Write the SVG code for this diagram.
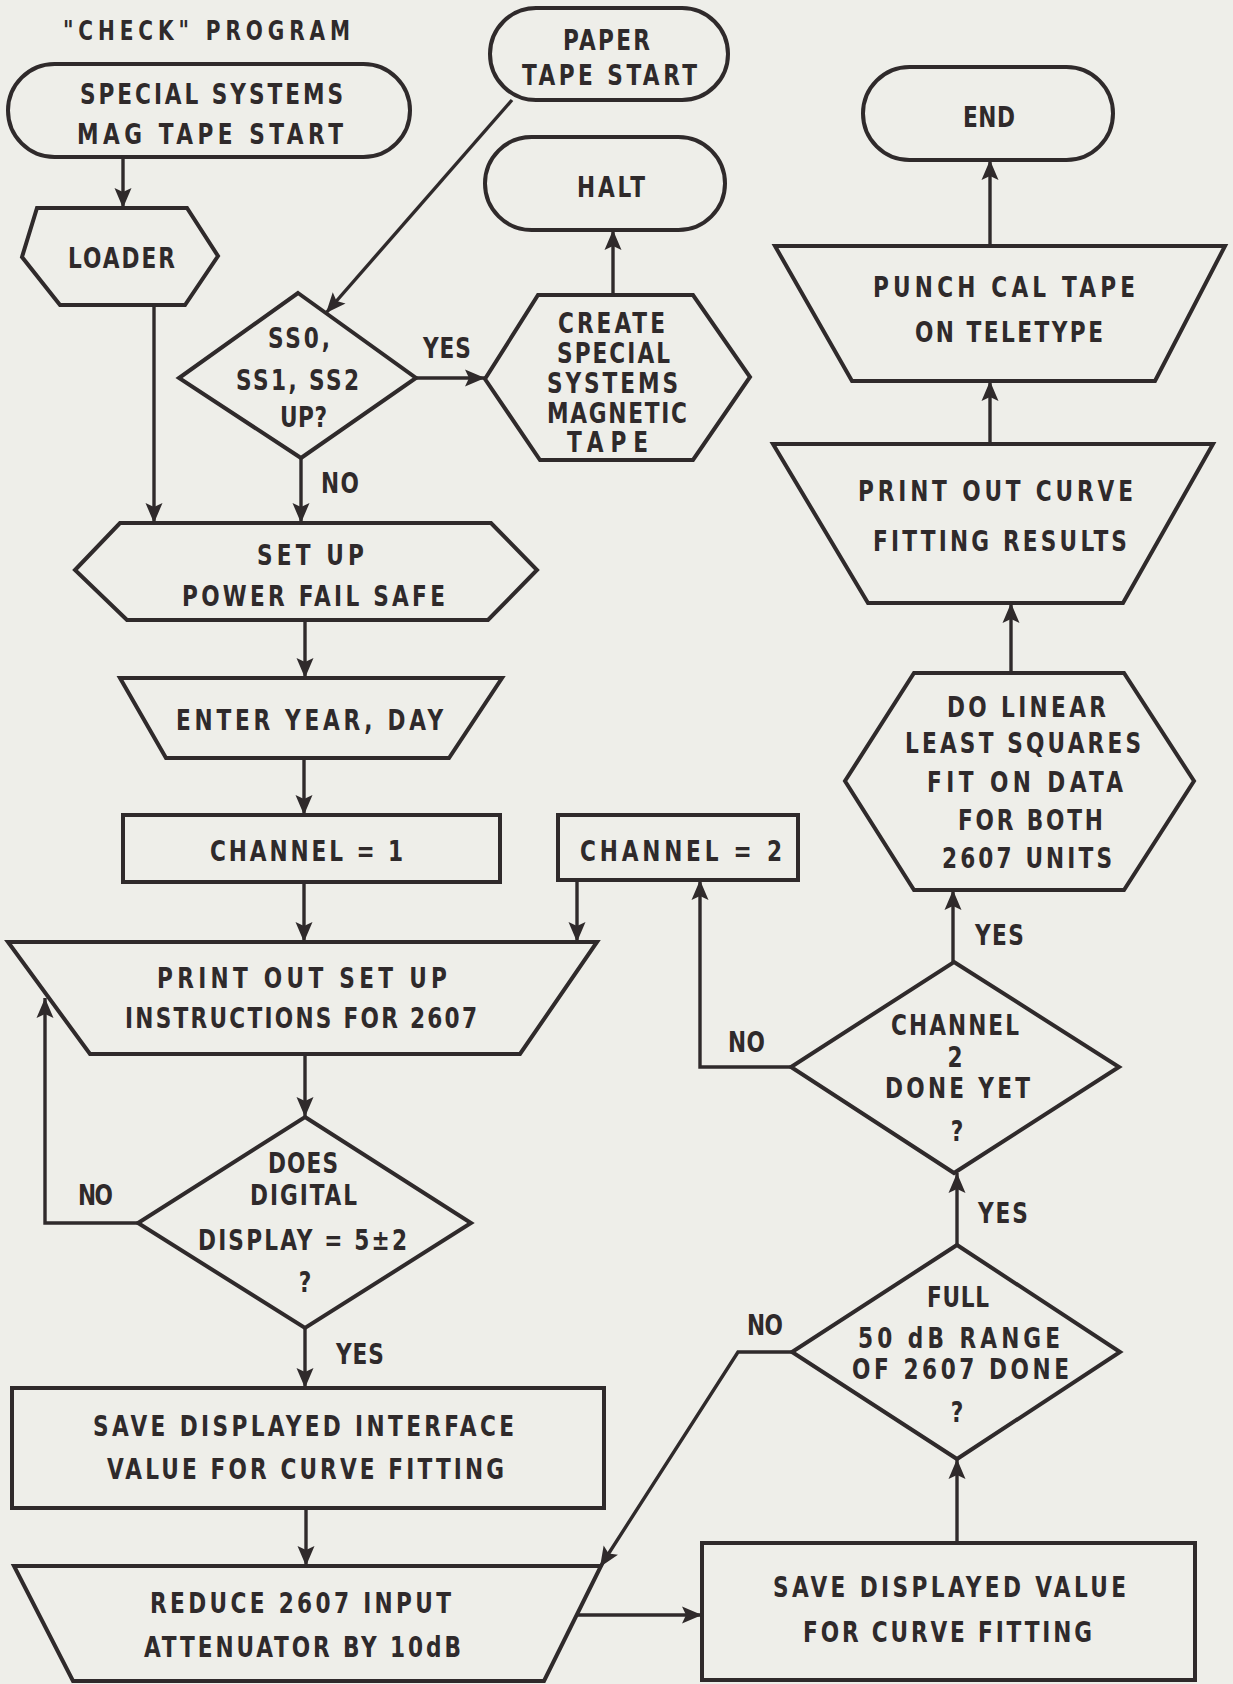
<svg xmlns="http://www.w3.org/2000/svg" width="1233" height="1684" viewBox="0 0 1233 1684">
<defs>
<style>
.bg{fill:#eeeee9}
.s{fill:none;stroke:#2f2a2b;stroke-width:4;stroke-linejoin:miter}
.c{fill:none;stroke:#2f2a2b;stroke-width:3.4}
text{font-family:"Liberation Sans Narrow","DejaVu Sans Condensed","Liberation Sans",sans-serif;font-weight:bold;font-size:28px;fill:#2f2a2b;text-anchor:middle;transform-box:fill-box;transform-origin:center;transform:scaleX(0.86)}
</style>
<marker id="ah" markerUnits="userSpaceOnUse" markerWidth="24" markerHeight="20" viewBox="-1 -10 24 20" refX="20" refY="0" orient="auto">
<path d="M0,-8.5 L20,0 L0,8.5 L4,0 z" fill="#2f2a2b"/>
</marker>
</defs>
<rect class="bg" x="0" y="0" width="1233" height="1684"/>

<g id="title"><text x="206.5" y="40" textLength="333.7" lengthAdjust="spacing" style="font-size:26px">"CHECK" PROGRAM</text></g>

<g id="start">
<rect class="s" x="8" y="64" width="402" height="93" rx="46.5"/>
<text x="211.5" y="104" textLength="305.8" lengthAdjust="spacing">SPECIAL SYSTEMS</text>
<text x="210" y="144" textLength="309.3" lengthAdjust="spacing">MAG TAPE START</text>
</g>

<g id="loader">
<polygon class="s" points="37,208 187,208 218,256 185,305 60,305 22,257"/>
<text x="121.5" y="268" textLength="124.4" lengthAdjust="spacing">LOADER</text>
</g>

<g id="paper">
<rect class="s" x="490" y="8" width="238" height="92" rx="46"/>
<text x="606.5" y="50" textLength="101.2" lengthAdjust="spacing">PAPER</text>
<text x="609.5" y="85" textLength="203.5" lengthAdjust="spacing">TAPE START</text>
</g>

<g id="halt">
<rect class="s" x="485" y="137" width="240" height="93" rx="46.5"/>
<text x="611" y="197" textLength="79.1" lengthAdjust="spacing">HALT</text>
</g>

<g id="create">
<polygon class="s" points="538,295 693,295 750,377 693,460 540,460 485,379"/>
<text x="611.5" y="333" textLength="124.4" lengthAdjust="spacing">CREATE</text>
<text x="613.5" y="363" textLength="131.4" lengthAdjust="spacing">SPECIAL</text>
<text x="612.5" y="393" textLength="152.3" lengthAdjust="spacing">SYSTEMS</text>
<text x="617" y="423" textLength="162.8" lengthAdjust="spacing">MAGNETIC</text>
<text x="607.5" y="452" textLength="94.2" lengthAdjust="spacing">TAPE</text>
</g>

<g id="end">
<rect class="s" x="863" y="67" width="250" height="93" rx="46.5"/>
<text x="989" y="127" textLength="60.5" lengthAdjust="spacing">END</text>
</g>

<g id="ssdecision">
<polygon class="s" points="298,293 416,378 301,458 179,378"/>
<text x="299" y="348" textLength="72.1" lengthAdjust="spacing">SS0,</text>
<text x="297.5" y="390" textLength="143" lengthAdjust="spacing">SS1, SS2</text>
<text x="303.5" y="427" textLength="54.7" lengthAdjust="spacing">UP?</text>
</g>

<g id="setup">
<polygon class="s" points="120,523 491,523 537,570 488,620 127,620 75,570"/>
<text x="310.5" y="565" textLength="124.4" lengthAdjust="spacing">SET UP</text>
<text x="313.5" y="606" textLength="305.8" lengthAdjust="spacing">POWER FAIL SAFE</text>
</g>

<g id="enteryear">
<polygon class="s" points="120,678 502,678 449,758 166,758"/>
<text x="309.5" y="730" textLength="310.5" lengthAdjust="spacing">ENTER YEAR, DAY</text>
</g>

<g id="channel1">
<rect class="s" x="123" y="815" width="377" height="67"/>
<text x="306.5" y="861" textLength="224.4" lengthAdjust="spacing">CHANNEL = 1</text>
</g>

<g id="channel2">
<rect class="s" x="558" y="815" width="240" height="65"/>
<text x="681" y="861" textLength="234.9" lengthAdjust="spacing">CHANNEL = 2</text>
</g>

<g id="printsetup">
<polygon class="s" points="8,942 597,942 520,1054 90,1054"/>
<text x="302" y="988" textLength="337.2" lengthAdjust="spacing">PRINT OUT SET UP</text>
<text x="301" y="1028" textLength="409.3" lengthAdjust="spacing">INSTRUCTIONS FOR 2607</text>
</g>

<g id="doesdecision">
<polygon class="s" points="305,1117 471,1223 305,1328 138,1223"/>
<text x="303" y="1173" textLength="81.4" lengthAdjust="spacing">DOES</text>
<text x="303.5" y="1205" textLength="124.4" lengthAdjust="spacing">DIGITAL</text>
<text x="302.5" y="1250" textLength="243" lengthAdjust="spacing">DISPLAY = 5±2</text>
<text x="305" y="1292">?</text>
</g>

<g id="saveinterface">
<rect class="s" x="12" y="1388" width="592" height="120"/>
<text x="303.5" y="1436" textLength="489.5" lengthAdjust="spacing">SAVE DISPLAYED INTERFACE</text>
<text x="305.5" y="1479" textLength="461.6" lengthAdjust="spacing">VALUE FOR CURVE FITTING</text>
</g>

<g id="reduce">
<polygon class="s" points="14,1566 601,1566 544,1681 73,1681"/>
<text x="300.5" y="1613" textLength="350" lengthAdjust="spacing">REDUCE 2607 INPUT</text>
<text x="302.5" y="1657" textLength="368.6" lengthAdjust="spacing">ATTENUATOR BY 10dB</text>
</g>

<g id="savevalue">
<rect class="s" x="702" y="1543" width="493" height="137"/>
<text x="949.5" y="1597" textLength="410.5" lengthAdjust="spacing">SAVE DISPLAYED VALUE</text>
<text x="947.5" y="1642" textLength="336" lengthAdjust="spacing">FOR CURVE FITTING</text>
</g>

<g id="fulldecision">
<polygon class="s" points="957,1245 1120,1352 957,1459 792,1352"/>
<text x="958" y="1307" textLength="72.1" lengthAdjust="spacing">FULL</text>
<text x="959" y="1348" textLength="234.9" lengthAdjust="spacing">50 dB RANGE</text>
<text x="960.5" y="1379" textLength="252.3" lengthAdjust="spacing">OF 2607 DONE</text>
<text x="957" y="1422">?</text>
</g>

<g id="ch2decision">
<polygon class="s" points="954,962 1119,1067 954,1173 791,1067"/>
<text x="955" y="1035" textLength="148.8" lengthAdjust="spacing">CHANNEL</text>
<text x="955" y="1067">2</text>
<text x="957.5" y="1098" textLength="168.6" lengthAdjust="spacing">DONE YET</text>
<text x="957" y="1141">?</text>
</g>

<g id="linearfit">
<polygon class="s" points="914,673 1124,673 1194,781 1124,890 914,890 845,781"/>
<text x="1026.5" y="717" textLength="184.9" lengthAdjust="spacing">DO LINEAR</text>
<text x="1023" y="753" textLength="274.4" lengthAdjust="spacing">LEAST SQUARES</text>
<text x="1025" y="792" textLength="227.9" lengthAdjust="spacing">FIT ON DATA</text>
<text x="1030.5" y="830" textLength="168.6" lengthAdjust="spacing">FOR BOTH</text>
<text x="1027" y="868" textLength="197.7" lengthAdjust="spacing">2607 UNITS</text>
</g>

<g id="printcurve">
<polygon class="s" points="773,444 1213,444 1123,603 868,603"/>
<text x="995.5" y="501" textLength="319.8" lengthAdjust="spacing">PRINT OUT CURVE</text>
<text x="1000" y="551" textLength="295.3" lengthAdjust="spacing">FITTING RESULTS</text>
</g>

<g id="punch">
<polygon class="s" points="775,246 1225,246 1155,381 852,381"/>
<text x="1004" y="297" textLength="304.7" lengthAdjust="spacing">PUNCH CAL TAPE</text>
<text x="1009" y="342" textLength="218.6" lengthAdjust="spacing">ON TELETYPE</text>
</g>

<g id="connectors">
<path class="c" marker-end="url(#ah)" d="M123,157 L123,208"/>
<path class="c" marker-end="url(#ah)" d="M154,305 L154,523"/>
<path class="c" marker-end="url(#ah)" d="M512,100 L326,313"/>
<path class="c" marker-end="url(#ah)" d="M416,378 L485,378"/>
<path class="c" marker-end="url(#ah)" d="M301,458 L301,523"/>
<path class="c" marker-end="url(#ah)" d="M613,295 L613,230"/>
<path class="c" marker-end="url(#ah)" d="M305,620 L305,678"/>
<path class="c" marker-end="url(#ah)" d="M304,758 L304,815"/>
<path class="c" marker-end="url(#ah)" d="M304,882 L304,942"/>
<path class="c" marker-end="url(#ah)" d="M577,880 L577,942"/>
<path class="c" marker-end="url(#ah)" d="M305,1054 L305,1117"/>
<path class="c" marker-end="url(#ah)" d="M138,1223 L45,1223 L45,998"/>
<path class="c" marker-end="url(#ah)" d="M305,1328 L305,1388"/>
<path class="c" marker-end="url(#ah)" d="M306,1508 L306,1566"/>
<path class="c" marker-end="url(#ah)" d="M577,1615 L702,1615"/>
<path class="c" marker-end="url(#ah)" d="M957,1543 L957,1459"/>
<path class="c" marker-end="url(#ah)" d="M792,1352 L738,1352 L600,1567"/>
<path class="c" marker-end="url(#ah)" d="M957,1245 L957,1173"/>
<path class="c" marker-end="url(#ah)" d="M791,1067 L700,1067 L700,880"/>
<path class="c" marker-end="url(#ah)" d="M953,962 L953,890"/>
<path class="c" marker-end="url(#ah)" d="M1011,673 L1011,603"/>
<path class="c" marker-end="url(#ah)" d="M990,444 L990,381"/>
<path class="c" marker-end="url(#ah)" d="M990,246 L990,160"/>
</g>

<g id="labels">
<text x="447" y="358" textLength="55.8" lengthAdjust="spacing">YES</text>
<text x="340" y="493" textLength="44.2" lengthAdjust="spacing">NO</text>
<text x="95.5" y="1205" textLength="40.7" lengthAdjust="spacing">NO</text>
<text x="360" y="1364" textLength="55.8" lengthAdjust="spacing">YES</text>
<text x="765" y="1335" textLength="41.9" lengthAdjust="spacing">NO</text>
<text x="1003" y="1223" textLength="58.1" lengthAdjust="spacing">YES</text>
<text x="746.5" y="1052" textLength="43" lengthAdjust="spacing">NO</text>
<text x="999.5" y="945" textLength="57" lengthAdjust="spacing">YES</text>
</g>
</svg>
